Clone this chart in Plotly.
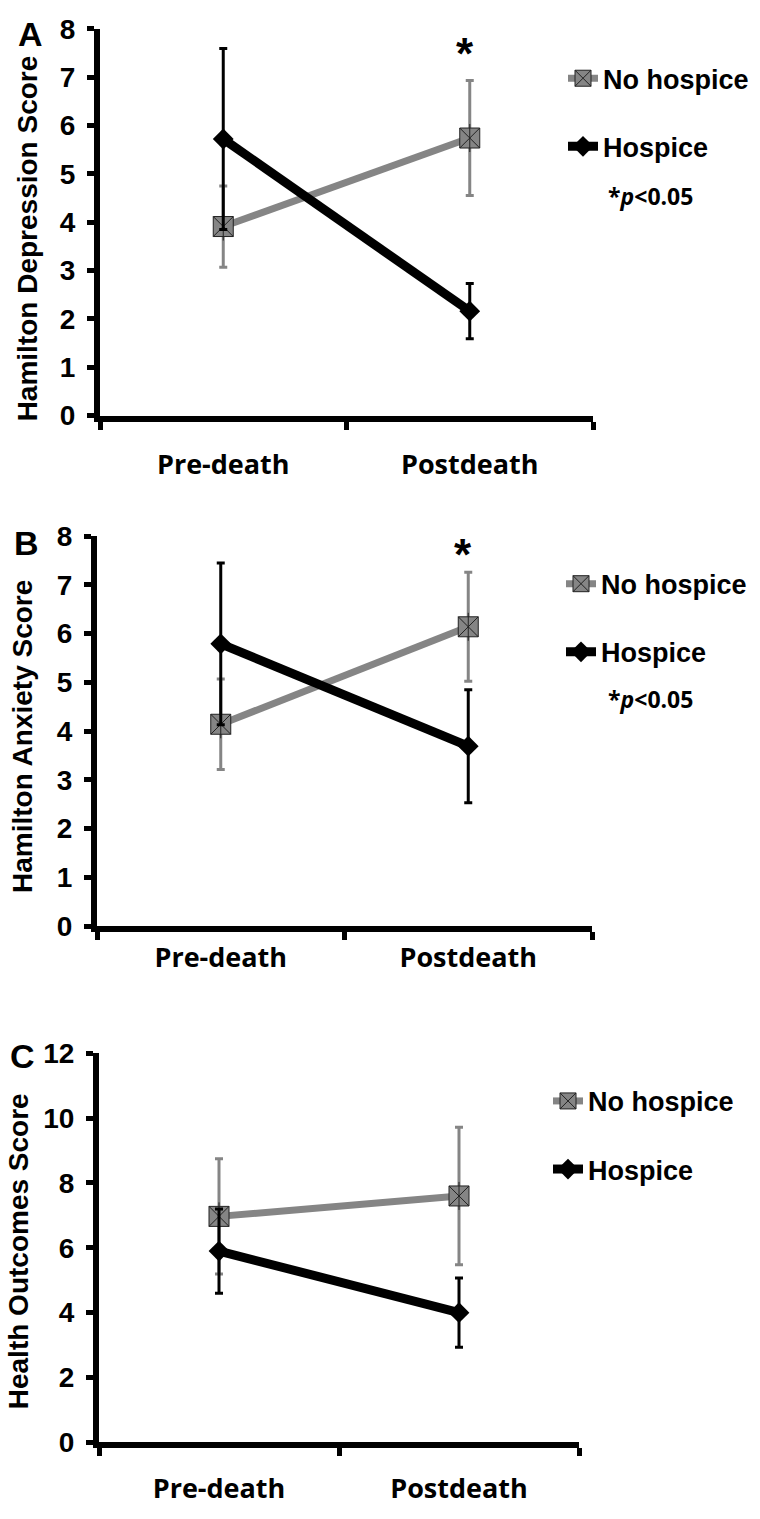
import plotly.graph_objects as go

W, H = 760, 1519

categories = ["Pre-death", "Postdeath"]
series_names = ["No hospice", "Hospice"]

dep_no_hospice = [3.91, 5.74]
dep_no_hospice_err = [0.84, 1.19]
dep_hospice = [5.72, 2.16]
dep_hospice_err = [1.87, 0.57]

anx_no_hospice = [4.14, 6.14]
anx_no_hospice_err = [0.93, 1.12]
anx_hospice = [5.79, 3.69]
anx_hospice_err = [1.66, 1.16]

health_no_hospice = [6.97, 7.60]
health_no_hospice_err = [1.78, 2.12]
health_hospice = [5.90, 4.00]
health_hospice_err = [1.30, 1.07]

y_titles = ["Hamilton Depression Score", "Hamilton Anxiety Score", "Health Outcomes Score"]
y_ranges = [[0, 8], [0, 8], [0, 12]]
y_dticks = [1, 1, 2]
panel_letters = ["A", "B", "C"]

GRAY = "#858585"
BLACK = "#000000"
ARIAL = "Liberation Sans, Arial, sans-serif"
CAL = "Open Sans, Calibri, sans-serif"

# plot-area boxes in pixels: (left, right, top, bottom)
boxes = [(100, 593, 14, 409), (97, 592, 532, 930), (99, 579, 1060, 1457)]
xlabel_standoff = [20, 3, 17]
title_sizes = [28, 28, 28]


def px(x):
    return x / W


def py(y):
    return 1 - y / H


panels = [
    (dep_no_hospice, dep_no_hospice_err, dep_hospice, dep_hospice_err),
    (anx_no_hospice, anx_no_hospice_err, anx_hospice, anx_hospice_err),
    (health_no_hospice, health_no_hospice_err, health_hospice, health_hospice_err),
]

fig = go.Figure()
legend_names = ["legend", "legend2", "legend3"]

for i, (nh, nh_e, h, h_e) in enumerate(panels):
    xa = "x" if i == 0 else f"x{i+1}"
    ya = "y" if i == 0 else f"y{i+1}"
    lg = legend_names[i]
    fig.add_trace(go.Scatter(
        x=categories, y=nh, xaxis=xa, yaxis=ya, name=series_names[0],
        mode="lines+markers", legend=lg, legendgroup=f"nh{i}",
        line=dict(color=GRAY, width=7),
        marker=dict(symbol="square-x", size=20, color=GRAY,
                    line=dict(color="#222222", width=1)),
        error_y=dict(type="data", array=nh_e, visible=True, color=GRAY,
                     thickness=3, width=4),
        hoverinfo="skip",
    ))
    fig.add_trace(go.Scatter(
        x=categories, y=nh, xaxis=xa, yaxis=ya, mode="markers",
        showlegend=False, legend=lg,
        marker=dict(symbol="line-ns-open", size=20, color="#222222",
                    line=dict(color="#222222", width=1)),
        hoverinfo="skip",
    ))
    fig.add_trace(go.Scatter(
        x=categories, y=h, xaxis=xa, yaxis=ya, name=series_names[1],
        mode="lines+markers", legend=lg, legendgroup=f"h{i}",
        line=dict(color=BLACK, width=9),
        marker=dict(symbol="diamond", size=16, color=BLACK),
        error_y=dict(type="data", array=h_e, visible=True, color=BLACK,
                     thickness=3, width=4),
        hoverinfo="skip",
    ))

layout = dict(
    width=W, height=H, margin=dict(l=0, r=0, t=0, b=0),
    paper_bgcolor="white", plot_bgcolor="white",
    showlegend=True,
)

legend_pos = [(563, 40), (561, 556), (548, 1084)]
for i, box in enumerate(boxes):
    l, r, t, b = box
    sx = "" if i == 0 else str(i + 1)
    layout[f"xaxis{sx}"] = dict(
        domain=[px(l), px(r)], anchor=f"y{sx}", type="category",
        range=[-0.5, 1.5], tickson="boundaries",
        showline=True, linecolor=BLACK, linewidth=6,
        ticks="outside", ticklen=8, tickwidth=5, tickcolor=BLACK,
        showgrid=False, zeroline=False,
        tickfont=dict(family=CAL, size=27, color=BLACK, weight="bold"),
        ticklabelstandoff=xlabel_standoff[i],
        fixedrange=True,
    )
    layout[f"yaxis{sx}"] = dict(
        domain=[py(b), py(t)], anchor=f"x{sx}",
        range=y_ranges[i], dtick=y_dticks[i], tick0=0,
        showline=True, linecolor=BLACK, linewidth=6,
        ticks="outside", ticklen=7, tickwidth=5, tickcolor=BLACK,
        showgrid=False, zeroline=False,
        tickfont=dict(family=ARIAL, size=28, color=BLACK, weight="bold"),
        ticklabelstandoff=6,
        fixedrange=True,
    )
    lx, ly = legend_pos[i]
    layout[legend_names[i]] = dict(
        x=px(lx), y=py(ly), xanchor="left", yanchor="top",
        xref="paper", yref="paper",
        font=dict(family=ARIAL, size=27, color=BLACK, weight="bold"),
        traceorder="grouped", tracegroupgap=30, itemwidth=30,
        bgcolor="rgba(0,0,0,0)",
    )

fig.update_layout(**layout)

annotations = []
title_pos = [(27, 228), (23, 737), (18, 1262)]
letter_pos = [(30, 19), (26, 539), (22, 1063)]
for i in range(3):
    tx, ty = title_pos[i]
    annotations.append(dict(
        x=px(tx), y=py(ty), xref="paper", yref="paper", text=y_titles[i],
        textangle=-90, showarrow=False, xanchor="center", yanchor="middle",
        font=dict(family=ARIAL, size=title_sizes[i], color=BLACK, weight="bold"),
    ))
    lx, ly = letter_pos[i]
    annotations.append(dict(
        x=px(lx), y=py(ly), xref="paper", yref="paper", text=panel_letters[i],
        showarrow=False, xanchor="center", yanchor="middle",
        font=dict(family=ARIAL, size=34, color=BLACK, weight="bold"),
    ))

# significance asterisks (panels A and B)
for i, ystar in [(0, 7.66), (1, 7.79)]:
    sx = "" if i == 0 else str(i + 1)
    annotations.append(dict(
        x=categories[1], y=ystar, xref=f"x{sx}", yref=f"y{sx}", text="*",
        showarrow=False, xanchor="center", yanchor="middle", xshift=-5, yshift=-8,
        font=dict(family=ARIAL, size=44, color=BLACK, weight="bold"),
    ))

for (x0, y0) in [(606, 185), (606, 698)]:
    annotations.append(dict(
        x=px(x0), y=py(y0), xref="paper", yref="paper",
        text="*<i>p</i>&lt;0.05", showarrow=False, xanchor="left", yanchor="middle",
        font=dict(family=CAL, size=23, color=BLACK, weight="bold"),
    ))

fig.update_layout(annotations=annotations)
fig.write_html(
    "out.html",
    config={"displayModeBar": False},
    post_script="document.body.style.margin='0';document.body.style.overflow='hidden';",
)
